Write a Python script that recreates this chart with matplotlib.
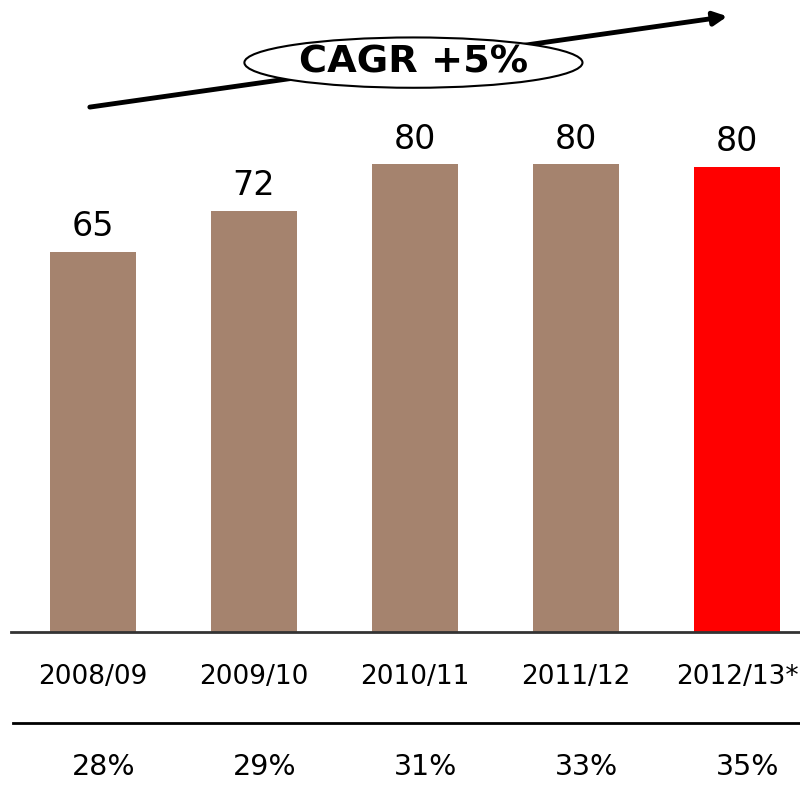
import matplotlib
matplotlib.use("Agg")
import matplotlib.pyplot as plt
from matplotlib.patches import Ellipse

# data
years = ["2008/09", "2009/10", "2010/11", "2011/12", "2012/13*"]
values = [65, 72, 80, 80, 79.5]
value_labels = ["65", "72", "80", "80", "80"]
shares = ["28%", "29%", "31%", "33%", "35%"]
colors = ["#a5836e", "#a5836e", "#a5836e", "#a5836e", "#ff0000"]
cagr_text = "CAGR +5%"

fig = plt.figure(figsize=(8, 8.07), dpi=100)
ax = fig.add_axes([0, 0, 1, 1])
ax.set_xlim(-0.578, 4.391)
ax.set_ylim(-29.9, 108.0)
ax.axis("off")

x = list(range(len(years)))
bars = ax.bar(x, values, width=0.535, color=colors, zorder=2)

for b, lab in zip(bars, value_labels):
    ax.annotate(lab, (b.get_x() + b.get_width() / 2, b.get_height()),
                xytext=(0, 6), textcoords="offset points",
                ha="center", va="bottom", fontsize=24)

# baseline and separator line
ax.plot([-0.51, 4.4], [0, 0], color="#333333", lw=2, zorder=3)
ax.plot([-0.5, 4.4], [-15.6, -15.6], color="black", lw=2)

for xi, yr, sh in zip(x, years, shares):
    ax.text(xi, -7.7, yr, ha="center", va="center", fontsize=19)
    # percentages sit a little right of the bar centres
    ax.text(xi + 0.065, -23.1, sh, ha="center", va="center", fontsize=20.5)

# CAGR arrow with ellipse label
ax.annotate("", xy=(3.94, 105.2), xytext=(-0.02, 89.7),
            arrowprops=dict(arrowstyle="-|>", color="black", lw=3.5,
                            mutation_scale=20, shrinkA=0, shrinkB=0))
ax.add_patch(Ellipse((1.99, 97.3), 2.1, 8.6, facecolor="white",
                     edgecolor="black", lw=1.5, zorder=4))
ax.text(1.99, 97.3, cagr_text, ha="center", va="center", fontsize=27.5,
        fontweight="bold", zorder=5)

fig.savefig("out.png", dpi=100)
